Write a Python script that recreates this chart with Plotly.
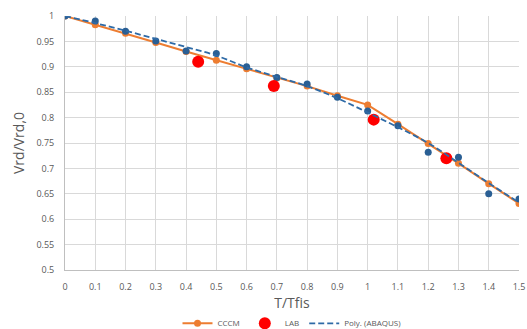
import plotly.graph_objects as go

x_vals = [0, 0.1, 0.2, 0.3, 0.4, 0.5, 0.6, 0.7, 0.8, 0.9, 1.0, 1.1, 1.2, 1.3, 1.4, 1.5]
cccm = [1.0, 0.983, 0.966, 0.948, 0.930, 0.913, 0.896, 0.878, 0.862, 0.843, 0.825, 0.787, 0.749, 0.710, 0.670, 0.631]
abaqus = [1.0, 0.990, 0.970, 0.951, 0.931, 0.926, 0.900, 0.879, 0.866, 0.840, 0.813, 0.784, 0.732, 0.722, 0.650, 0.640]
poly_abaqus = [1.0, 0.986, 0.971, 0.955, 0.939, 0.922, 0.899, 0.880, 0.862, 0.838, 0.810, 0.781, 0.750, 0.711, 0.671, 0.633]
lab_x = [0.44, 0.69, 1.02, 1.26]
lab_y = [0.910, 0.862, 0.796, 0.720]

orange = "#ED7D31"
blue = "#2A5F94"
red = "#FF0000"

fig = go.Figure()
fig.add_trace(go.Scatter(x=x_vals, y=cccm, mode="lines+markers", name="CCCM",
                         line=dict(color=orange, width=2), marker=dict(color=orange, size=7)))
fig.add_trace(go.Scatter(x=x_vals, y=abaqus, mode="markers", name="ABAQUS", showlegend=False,
                         marker=dict(color=blue, size=7)))
fig.add_trace(go.Scatter(x=lab_x, y=lab_y, mode="markers", name="LAB",
                         marker=dict(color=red, size=12)))
fig.add_trace(go.Scatter(x=x_vals, y=poly_abaqus, mode="lines", name="Poly. (ABAQUS)",
                         line=dict(color="#2E6AA6", width=1.8, dash="6px,3px", shape="spline")))

fig.update_layout(
    width=527, height=329,
    margin=dict(l=65, r=8, t=16, b=59, autoexpand=False),
    plot_bgcolor="white", paper_bgcolor="white",
    font=dict(family="Open Sans, Liberation Sans, sans-serif", color="#595959"),
    showlegend=True,
    legend=dict(orientation="h", x=0.5, xanchor="center", y=-0.21, yanchor="middle",
                font=dict(size=8, color="#595959"), traceorder="normal"),
    xaxis=dict(range=[0, 1.5], dtick=0.1, tick0=0, showgrid=True, gridcolor="#D9D9D9",
               gridwidth=1, showline=True, linecolor="#BFBFBF", linewidth=1, zeroline=False,
               ticks="outside", ticklen=8, tickcolor="rgba(0,0,0,0)", automargin=False,
               tickfont=dict(size=9, color="#595959"),
               title=dict(text="T/Tfis", font=dict(size=14, color="#595959"), standoff=6)),
    yaxis=dict(range=[0.5, 1.0], dtick=0.05, tick0=0.5, showgrid=True, gridcolor="#D9D9D9",
               gridwidth=1, showline=True, linecolor="#BFBFBF", linewidth=1, zeroline=False,
               ticks="outside", ticklen=8, tickcolor="rgba(0,0,0,0)", automargin=False,
               tickfont=dict(size=9, color="#595959"),
               title=dict(text="Vrd/Vrd,0", font=dict(size=14, color="#595959"), standoff=8)),
)

fig.write_html("out.html", config={"displayModeBar": False},
               post_script="document.body.style.margin='0';document.body.style.overflow='hidden';")
